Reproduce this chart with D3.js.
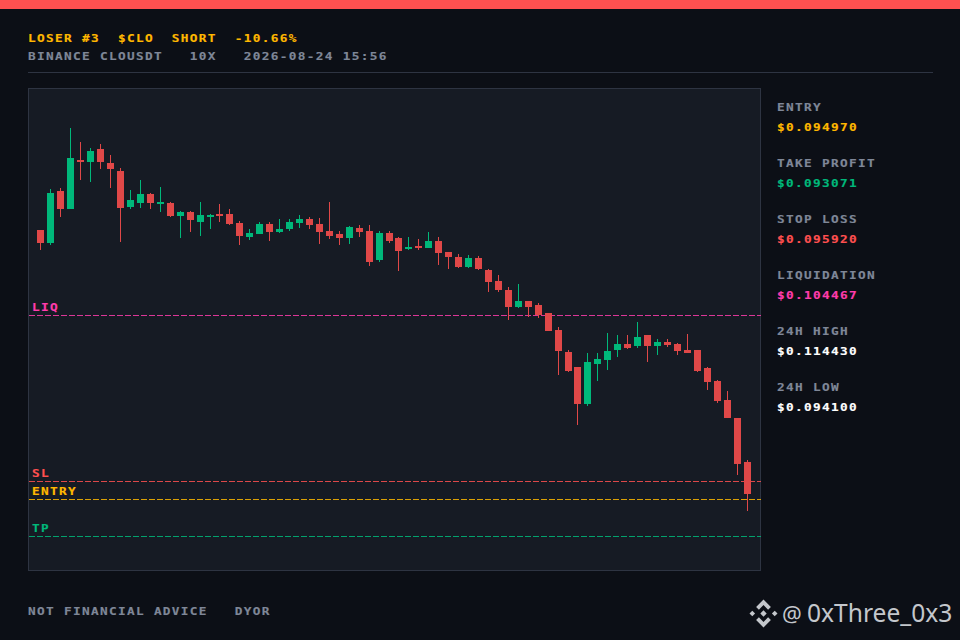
<!DOCTYPE html>
<html>
<head>
<meta charset="utf-8">
<script src="https://cdn.jsdelivr.net/npm/d3@7"></script>
<style>
  html, body { margin: 0; padding: 0; background: #0c0f16; }
  svg { display: block; }
  .mono { font-family: "DejaVu Sans Mono", monospace; font-weight: bold; font-size: 10.2px; letter-spacing: 1.06px; }
</style>
</head>
<body>
<div id="chart"></div>
<script>
const opens = [0.108882,0.108211,0.110893,0.109965,0.112492,0.112389,0.113059,0.112337,0.111924,0.110068,0.110274,0.110739,
  0.110223,0.110274,0.109604,0.109810,0.109295,0.109552,0.109707,0.109707,0.109243,0.108521,0.108676,0.109192,
  0.108779,0.108934,0.109243,0.109449,0.109192,0.108830,0.108676,0.108469,0.108985,0.108830,0.107335,0.108727,
  0.108469,0.107903,0.108057,0.107954,0.108314,0.107748,0.107490,0.106974,0.107438,0.106819,0.106252,0.105788,
  0.104911,0.105220,0.105014,0.104601,0.103725,0.102590,0.101817,0.099909,0.101972,0.102178,0.102694,0.103003,
  0.102900,0.103467,0.102900,0.103106,0.103003,0.102694,0.102694,0.101765,0.101095,0.100115,0.099187,0.096918];
const highs = [0.108882,0.110996,0.111047,0.114142,0.113420,0.113110,0.113317,0.112750,0.112079,0.110945,0.111460,0.110790,
  0.111099,0.110326,0.109861,0.109861,0.110326,0.109707,0.110223,0.109965,0.109346,0.108934,0.109295,0.109295,
  0.109449,0.109449,0.109655,0.109552,0.109501,0.110326,0.108830,0.109088,0.109140,0.109140,0.108830,0.108830,
  0.108521,0.108521,0.108418,0.108779,0.108521,0.107748,0.107645,0.107593,0.107542,0.106871,0.106561,0.105943,
  0.106097,0.105220,0.105117,0.104601,0.103880,0.102694,0.101817,0.102539,0.102539,0.103570,0.103467,0.103467,
  0.104138,0.103467,0.103261,0.103261,0.103054,0.103518,0.102694,0.101817,0.101146,0.100579,0.099187,0.097021];
const lows = [0.107851,0.108108,0.109552,0.109965,0.111460,0.111357,0.112028,0.111047,0.108263,0.109965,0.110016,0.109965,
  0.109810,0.109552,0.108469,0.108779,0.108573,0.108934,0.109295,0.109140,0.108108,0.108366,0.108676,0.108314,
  0.108727,0.108830,0.108985,0.108934,0.108160,0.108418,0.108108,0.108160,0.108521,0.107026,0.107232,0.108211,
  0.106767,0.107851,0.107851,0.107954,0.107077,0.106871,0.106922,0.106922,0.106819,0.105685,0.105685,0.104241,
  0.104859,0.104395,0.104344,0.103673,0.101404,0.101559,0.098826,0.099806,0.101095,0.101662,0.102333,0.102745,
  0.102797,0.102075,0.102436,0.102848,0.102436,0.102539,0.101559,0.100631,0.099961,0.099187,0.096247,0.094390];
const closes = [0.108211,0.110790,0.109965,0.112595,0.112389,0.112956,0.112389,0.112028,0.110016,0.110429,0.110739,0.110274,
  0.110326,0.109604,0.109810,0.109398,0.109655,0.109655,0.109604,0.109192,0.108573,0.108727,0.109192,0.108779,
  0.108934,0.109295,0.109449,0.109140,0.108779,0.108573,0.108469,0.109037,0.108779,0.107232,0.108727,0.108314,
  0.107799,0.108005,0.107954,0.108314,0.107696,0.107490,0.106974,0.107438,0.106871,0.106200,0.105788,0.104911,
  0.105220,0.104911,0.104498,0.103673,0.102642,0.101610,0.099909,0.102075,0.102230,0.102642,0.103003,0.102797,
  0.103364,0.102900,0.103106,0.102951,0.102642,0.102539,0.101610,0.101043,0.100064,0.099187,0.096815,0.095267];

const levelNames = ["LIQ", "SL", "ENTRY", "TP"];
const levelPrices = [0.104467, 0.095920, 0.094970, 0.093071];
const levelColors = ["#ff3cac", "#ff5050", "#ffb800", "#00b87a"];

const statLabels = ["ENTRY", "TAKE PROFIT", "STOP LOSS", "LIQUIDATION", "24H HIGH", "24H LOW"];
const statValues = ["$0.094970", "$0.093071", "$0.095920", "$0.104467", "$0.114430", "$0.094100"];
const statColors = ["#ffb800", "#00b87a", "#ff5050", "#ff3cac", "#ffffff", "#ffffff"];

const width = 960;
const height = 640;
const upColor = "#00b87a";
const downColor = "#e04848";
const grey = "#7f8798";

const svg = d3.select("#chart").append("svg")
  .attr("width", width)
  .attr("height", height);

svg.append("rect").attr("width", width).attr("height", height).attr("fill", "#0c0f16");
svg.append("rect").attr("width", width).attr("height", 9).attr("fill", "#ff5050");

// Header. The glyphs get stretched sideways to sit closer to the wide pixel font.
function label(x, y, str, color) {
  return svg.append("text")
    .attr("class", "mono")
    .attr("transform", `translate(${x},${y}) scale(1.25,1)`)
    .attr("fill", color)
    .attr("stroke", color)
    .attr("stroke-width", 0.15)
    .style("white-space", "pre")
    .text(str);
}

label(28, 41.5, "LOSER #3  $CLO  SHORT  -10.66%", "#ffb800");
label(28, 59.5, "BINANCE CLOUSDT   10X   2026-08-24 15:56", grey);
svg.append("line")
  .attr("x1", 28).attr("x2", 933)
  .attr("y1", 72.5).attr("y2", 72.5)
  .attr("stroke", "#2e3442");

// Chart panel
svg.append("rect")
  .attr("x", 28.5).attr("y", 88.5)
  .attr("width", 732).attr("height", 482)
  .attr("fill", "#161b24")
  .attr("stroke", "#2e3442");

const x = d3.scaleBand()
  .domain(d3.range(opens.length))
  .range([35.98, 752.02])
  .paddingInner(0.3)
  .paddingOuter(0.15);

const y = d3.scaleLinear()
  .domain([0.091322, 0.116179])
  .range([570.5, 88.5]);

// Level lines sit under the candles
const levels = svg.append("g");
levelNames.forEach((name, i) => {
  const ly = Math.floor(y(levelPrices[i])) + 0.5;
  levels.append("line")
    .attr("x1", 29).attr("x2", 761)
    .attr("y1", ly).attr("y2", ly)
    .attr("stroke", levelColors[i])
    .attr("stroke-opacity", 0.85)
    .attr("stroke-dasharray", "6,2");
  label(32, ly - 5, name, levelColors[i]);
});

// Candles
const candles = svg.append("g").selectAll("g")
  .data(opens.map((o, i) => ({ i, o, h: highs[i], l: lows[i], c: closes[i] })))
  .enter()
  .append("g")
  .attr("fill", d => d.c >= d.o ? upColor : downColor)
  .attr("stroke", d => d.c >= d.o ? upColor : downColor);

candles.append("line")
  .attr("x1", d => Math.floor(x(d.i) + x.bandwidth() / 2) + 0.5)
  .attr("x2", d => Math.floor(x(d.i) + x.bandwidth() / 2) + 0.5)
  .attr("y1", d => y(d.h))
  .attr("y2", d => y(d.l));

candles.append("rect")
  .attr("x", d => Math.floor(x(d.i) + x.bandwidth() / 2) - 3)
  .attr("width", 7)
  .attr("y", d => y(Math.max(d.o, d.c)))
  .attr("height", d => Math.max(1, y(Math.min(d.o, d.c)) - y(Math.max(d.o, d.c))))
  .attr("stroke", "none");

// Side stats
statLabels.forEach((s, i) => {
  label(777, 111 + i * 56, s, grey);
  label(777, 131 + i * 56, statValues[i], statColors[i]);
});

// Footer
label(28, 615, "NOT FINANCIAL ADVICE   DYOR", grey);

const logo = svg.append("g")
  .attr("transform", "translate(763.5,613.5)")
  .attr("fill", "#c4c7cc");
[
  "0,-14 7.4,-6.6 4.6,-3.8 0,-8.4 -4.6,-3.8 -7.4,-6.6",
  "0,14 7.4,6.6 4.6,3.8 0,8.4 -4.6,3.8 -7.4,6.6",
  "-14,0 -11.2,-2.8 -8.4,0 -11.2,2.8",
  "14,0 11.2,-2.8 8.4,0 11.2,2.8",
  "0,-3.2 3.2,0 0,3.2 -3.2,0"
].forEach(p => logo.append("polygon").attr("points", p));

svg.append("text")
  .attr("x", 782)
  .attr("y", 622)
  .attr("font-family", "'Noto Sans', sans-serif")
  .attr("font-size", 22)
  .attr("fill", "#c4c7cc")
  .text("@");

svg.append("text")
  .attr("x", 807)
  .attr("y", 622)
  .attr("font-family", "'Noto Sans', sans-serif")
  .attr("font-size", 24.6)
  .attr("fill", "#c4c7cc")
  .text("0xThree_0x3");
</script>
</body>
</html>
